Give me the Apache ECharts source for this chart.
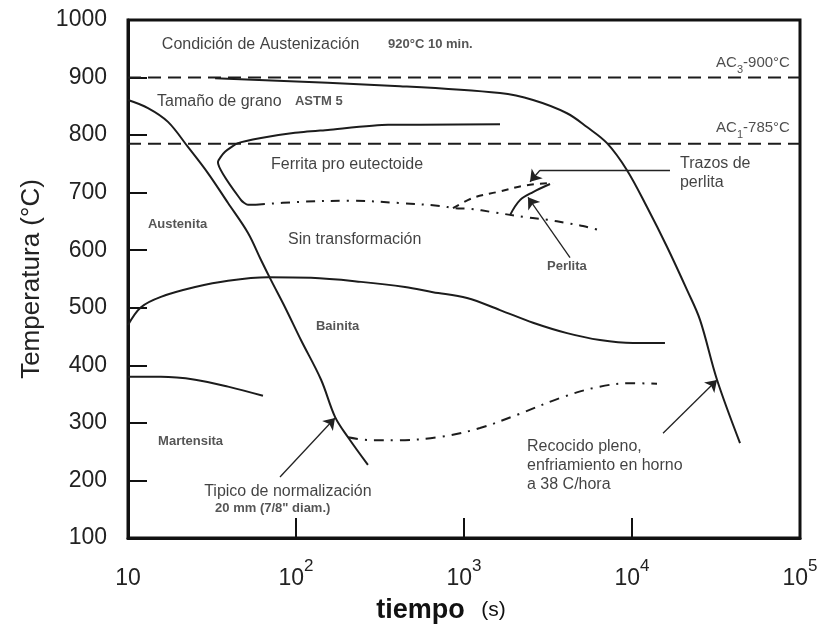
<!DOCTYPE html>
<html>
<head>
<meta charset="utf-8">
<script src="https://cdn.jsdelivr.net/npm/echarts@6/dist/echarts.min.js"></script>
<style>html,body{margin:0;padding:0;background:#fff}#c{width:819px;height:635px}</style>
</head>
<body>
<div id="c"></div>
<script>
// ---- axis ticks ----
const xTicks = [10, 100, 1000, 10000, 100000];
const yTicks = [100, 200, 300, 400, 500, 600, 700, 800, 900, 1000];

// ---- critical temperatures ----
const ac3Temp = 900;
const ac1Temp = 785;

// ---- curves: time (s) and temperature (°C) ----
const normTime = [10, 13.15, 17.3, 22.8, 29.9, 39.4, 51.8, 61.9, 71, 86, 107, 141, 171, 204, 268];
const normTemp = [861, 847, 823, 779, 734, 682, 630, 583, 548, 501, 444, 375, 310, 275, 227];

const annealTime = [33, 416, 1638, 2576, 4103, 5397, 7100, 9337, 12280, 16150, 21250, 25400, 32060, 43950];
const annealTemp = [899, 885, 873, 861, 838, 814, 786, 739, 675, 606, 531, 479, 375, 265];

const ferriteStartTime = [57.8, 51.8, 47.1, 34.3, 37.8, 45.2, 61.9, 98.6, 155, 353, 547, 1638];
const ferriteStartTemp = [679, 679, 687, 753, 771, 786, 795, 804, 809, 818, 818, 819];

const ferriteEndTime = [57.8, 105.6, 209.6, 416, 719, 884, 1086, 1489, 2371, 3119, 4103, 5108, 6718];
const ferriteEndTemp = [679, 684, 686, 682, 677, 673, 672, 666, 657, 653, 647, 642, 633];

const pearliteTraceTime = [860, 1132, 1571, 2371, 3388];
const pearliteTraceTemp = [673, 691, 701, 713, 717];

const pearliteTime = [1879, 2154, 2576, 3251];
const pearliteTemp = [661, 687, 701, 715];

const bainiteTime = [10, 11.95, 15.7, 25.1, 39.4, 68.1, 122.8, 243.8, 445.6, 653.6, 1042, 1638, 2576, 4103, 6451, 10140, 15710];
const bainiteTemp = [470, 501, 519, 536, 547, 553, 552, 545, 536, 527, 517, 496, 474, 456, 444, 439, 439];

const martensiteTime = [10, 15.7, 25.1, 39.4, 63.6];
const martensiteTemp = [380, 380, 375, 363, 347];

const furnaceTime = [204, 276, 399, 719, 1245, 2067, 3884, 6190, 9730, 14090];
const furnaceTemp = [275, 270, 270, 275.5, 291, 314, 345, 362, 369, 368];

// ---- arrows: [time, temp] from -> to ----
const arrowNorm = [[80.3, 206], [170.7, 308.5]];
const arrowAnneal = [[15300, 282], [32060, 374.5]];
const arrowTraceLeader = [[16830, 739], [2834, 739]];
const arrowTrace = [[2834, 739], [2471, 719]];
const arrowPearlite = [[4276, 587], [2404, 692]];

// ---- texts anchored at [time, temp] ----
const plainTexts = [
  [15.9, 957, 'Condición de Austenización'],
  [14.9, 858, 'Tamaño de grano'],
  [71, 748, 'Ferrita pro eutectoide'],
  [19300, 734, 'Trazos de\nperlita'],
  [89.6, 618, 'Sin transformación'],
  [28.4, 180, 'Tipico de normalización'],
  [2371, 225, 'Recocido pleno,\nenfriamiento en horno\na 38 C/hora']
];
const boldTexts = [
  [353, 957, '920°C 10 min.'],
  [98.6, 858, 'ASTM 5'],
  [13.15, 644, 'Austenita'],
  [3119, 571, 'Perlita'],
  [131.5, 467, 'Bainita'],
  [15.1, 268, 'Martensita'],
  [33, 152, '20 mm (7/8" diam.)']
];
const rightTexts = [
  [87100, 925, 'AC{s|3}-900°C'],
  [87100, 812, 'AC{s|1}-785°C']
];

const FONT = 'Liberation Sans, Arial, sans-serif';
const INK = '#1c1c1c';

function zip(a, b) { return a.map((v, i) => [v, b[i]]); }

function curve(name, t, T, type, smooth) {
  return {
    name, type: 'line', data: zip(t, T), showSymbol: false, symbol: 'none',
    smooth: smooth === undefined ? 0.35 : smooth, silent: true, z: 3,
    lineStyle: { color: INK, width: 2, type: type || 'solid' }
  };
}
function textSeries(list, align, fontSize, weight, color, extraRich) {
  return {
    type: 'scatter', symbolSize: 0, silent: true, z: 5,
    data: list.map(d => ({ value: [d[0], d[1]], name: d[2] })),
    label: {
      show: true, position: [0, 0], align, verticalAlign: 'middle',
      formatter: '{b}', fontFamily: FONT, fontSize, fontWeight: weight,
      color, lineHeight: fontSize + 3, rich: extraRich || {}
    }
  };
}

const chart = echarts.init(document.getElementById('c'), null, { renderer: 'canvas' });
chart.setOption({
  animation: false,
  backgroundColor: '#ffffff',
  grid: { left: 128, right: 19, top: 20, bottom: 97, show: true, borderColor: '#111', borderWidth: 3, outerBoundsMode: 'none' },
  xAxis: {
    type: 'log', logBase: 10, min: xTicks[0], max: xTicks[xTicks.length - 1],
    axisLine: { show: true, lineStyle: { color: '#111', width: 3 } },
    axisTick: { show: true, inside: true, length: 20, lineStyle: { color: '#111', width: 2 } },
    splitLine: { show: false },
    minorTick: { show: false },
    axisLabel: {
      margin: 20,
      formatter: function (v) {
        const e = Math.round(Math.log10(v));
        return e === 1 ? '{b|10}' : '{b|10}{s|' + e + '}';
      },
      rich: {
        b: { fontFamily: FONT, fontSize: 23, color: '#222', lineHeight: 32, verticalAlign: 'bottom' },
        s: { fontFamily: FONT, fontSize: 17, color: '#222', lineHeight: 17, verticalAlign: 'top' }
      }
    },
    name: '{b|tiempo}     {n|(s)}',
    nameLocation: 'middle', nameGap: 59,
    nameTextStyle: {
      padding: [0, 46, 0, 0],
      rich: {
        b: { fontFamily: FONT, fontSize: 27, fontWeight: 'bold', color: '#111' },
        n: { fontFamily: FONT, fontSize: 21, color: '#111' }
      }
    }
  },
  yAxis: {
    type: 'value', min: yTicks[0], max: yTicks[yTicks.length - 1], interval: 100,
    axisLine: { show: true, lineStyle: { color: '#111', width: 3 } },
    axisTick: { show: true, inside: true, length: 19, lineStyle: { color: '#111', width: 2 } },
    splitLine: { show: false },
    axisLabel: { fontFamily: FONT, fontSize: 23, color: '#222', margin: 21, formatter: v => String(v) },
    name: 'Temperatura (°C)', nameLocation: 'middle', nameGap: 82,
    nameTextStyle: { fontFamily: FONT, fontSize: 26, color: '#222' }
  },
  series: [
    curve('AC3', [xTicks[0], xTicks[xTicks.length - 1]], [ac3Temp, ac3Temp], [13, 7], false),
    curve('AC1', [xTicks[0], xTicks[xTicks.length - 1]], [ac1Temp, ac1Temp], [13, 7], false),
    curve('Normalización', normTime, normTemp),
    curve('Recocido', annealTime, annealTemp),
    curve('Ferrita inicio', ferriteStartTime, ferriteStartTemp, 'solid', 0.2),
    curve('Ferrita fin', ferriteEndTime, ferriteEndTemp, [9, 7, 2, 7]),
    curve('Trazos de perlita', pearliteTraceTime, pearliteTraceTemp, [7, 6]),
    curve('Perlita', pearliteTime, pearliteTemp),
    curve('Bainita', bainiteTime, bainiteTemp),
    curve('Martensita', martensiteTime, martensiteTemp),
    curve('Horno', furnaceTime, furnaceTemp, [10, 7, 2, 7]),
    {
      type: 'lines', coordinateSystem: 'cartesian2d', silent: true, z: 4,
      symbol: ['none', 'none'],
      lineStyle: { color: '#222', width: 1.3, opacity: 1 },
      data: [{ coords: arrowTraceLeader }]
    },
    {
      type: 'lines', coordinateSystem: 'cartesian2d', silent: true, z: 4,
      symbol: ['none', 'arrow'], symbolSize: [7, 11],
      lineStyle: { color: '#222', width: 1.3, opacity: 1 },
      itemStyle: { color: '#222' },
      data: [{ coords: arrowNorm }, { coords: arrowAnneal }, { coords: arrowTrace }, { coords: arrowPearlite }]
    },
    textSeries(plainTexts, 'left', 16, 'normal', '#111'),
    textSeries(boldTexts, 'left', 13, 'bold', '#2a2a2a'),
    textSeries(rightTexts, 'right', 15, 'normal', '#222', {
      s: { fontFamily: FONT, fontSize: 11, color: '#222', verticalAlign: 'bottom', lineHeight: 24 }
    })
  ]
});
</script>
</body>
</html>
